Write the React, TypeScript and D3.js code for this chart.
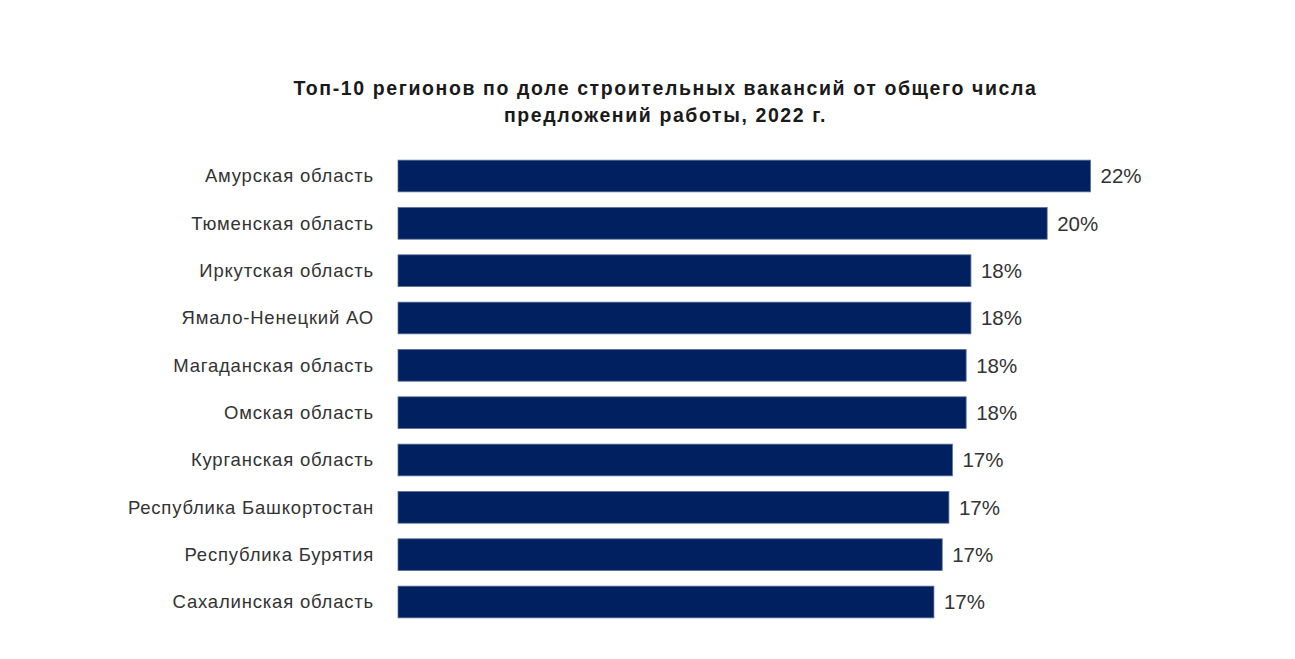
import React from "react";
import * as d3 from "d3";

const categories = [
  "Амурская область",
  "Тюменская область",
  "Иркутская область",
  "Ямало-Ненецкий АО",
  "Магаданская область",
  "Омская область",
  "Курганская область",
  "Республика Башкортостан",
  "Республика Бурятия",
  "Сахалинская область",
];
const values = [21.71, 20.35, 17.96, 17.96, 17.81, 17.81, 17.38, 17.27, 17.06, 16.8];
const titleLines = [
  "Топ-10 регионов по доле строительных вакансий от общего числа",
  "предложений работы, 2022 г.",
];

const W = 1295;
const H = 659;

export default function App() {
  const x = d3.scaleLinear().domain([0, 1]).range([398, 398 + 31.9]);
  const y = d3
    .scaleBand<string>()
    .domain(categories)
    .range([176 - 47.33 / 2, 602 + 47.33 / 2])
    .paddingInner(0.33)
    .paddingOuter(0.165);
  const font = "'Liberation Sans', Arial, sans-serif";
  return (
    <svg
      width={W}
      height={H}
      style={{ position: "absolute", left: 0, top: 0, background: "#fff" }}
      fontFamily={font}
    >
      {titleLines.map((t, i) => (
        <text
          key={i}
          x={665.5}
          y={95 + i * 26.5}
          textAnchor="middle"
          fontSize={19.5}
          fontWeight="bold"
          letterSpacing={1.6}
          fill="#1a1a1a"
        >
          {t}
        </text>
      ))}
      {categories.map((c, i) => {
        const yy = y(c)!;
        const bh = y.bandwidth();
        return (
          <g key={c}>
            <rect
              x={x(0)}
              y={yy}
              width={x(values[i]) - x(0)}
              height={bh}
              fill="#002060"
              stroke="#5a6f9c"
              strokeWidth={0.8}
            />
            <text
              x={374}
              y={yy + bh / 2}
              dy="0.35em"
              textAnchor="end"
              fontSize={18.5}
              letterSpacing={0.8}
              fill="#333"
            >
              {c}
            </text>
            <text
              x={x(values[i]) + 10}
              y={yy + bh / 2}
              dy="0.35em"
              fontSize={20.5}
              fill="#333"
            >
              {d3.format(".0f")(values[i]) + "%"}
            </text>
          </g>
        );
      })}
    </svg>
  );
}
